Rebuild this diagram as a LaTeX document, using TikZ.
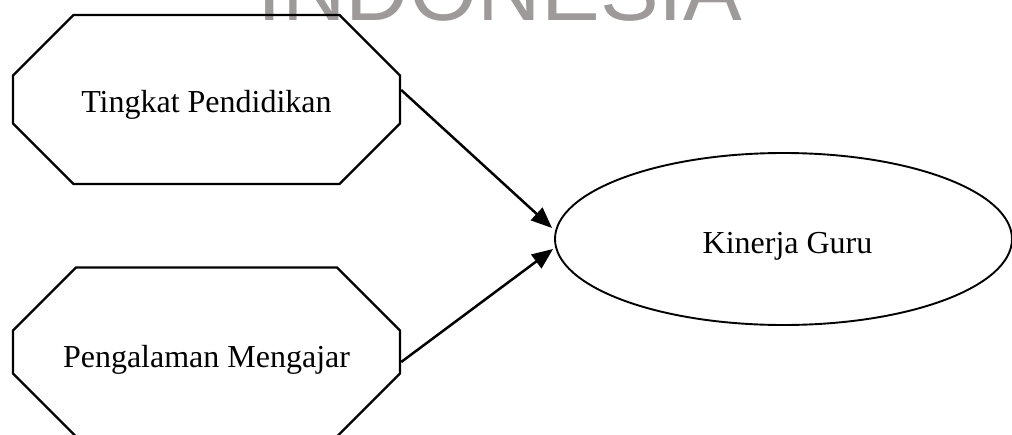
\documentclass[tikz,border=0pt]{standalone}
\usepackage{fontspec}
\setmainfont{Liberation Serif}
\newfontfamily\wmfont{Liberation Sans}
\usetikzlibrary{shapes.misc,shapes.geometric,arrows.meta,calc}
\definecolor{wmgray}{HTML}{9E9A99}
\tikzset{
  octbox/.style={chamfered rectangle, draw=black, line width=2.4pt,
    chamfered rectangle xsep=50pt, chamfered rectangle ysep=48pt,
    minimum width=387pt, minimum height=169pt, inner sep=0pt,
    font=\fontsize{32}{38}\selectfont, text depth=0pt},
  ovalbox/.style={ellipse, draw=black, line width=1.9pt,
    minimum width=457pt, minimum height=172pt, inner sep=0pt,
    font=\fontsize{32}{38}\selectfont, text depth=0pt},
  arr/.style={line width=2.5pt, -{Triangle[length=21pt,width=17pt]}},
  wmark/.style={text=wmgray, font=\wmfont\fontsize{88}{90}\selectfont, inner sep=0pt, anchor=base}
}
\begin{document}
\begin{tikzpicture}[x=1pt,y=-1pt]
\useasboundingbox (0,0) rectangle (1012,434);
\node[wmark] (wm) at (500,20) {INDONESIA};
\node[octbox, text height=25pt] (tp) at (206.5,99.5) {Tingkat Pendidikan};
\node[octbox, text height=30pt] (pm) at (206.5,352) {Pengalaman Mengajar};
\node[ovalbox, text height=28pt] (kg) at (783.5,239) {\hspace*{8pt}Kinerja Guru};
\draw[arr] ($(tp.east)+(0,-9.5)$) -- ($(kg.west)+(-2,-11)$);
\draw[arr] ($(pm.east)+(0,10)$) -- ($(kg.west)+(-1,10)$);
\end{tikzpicture}
\end{document}
